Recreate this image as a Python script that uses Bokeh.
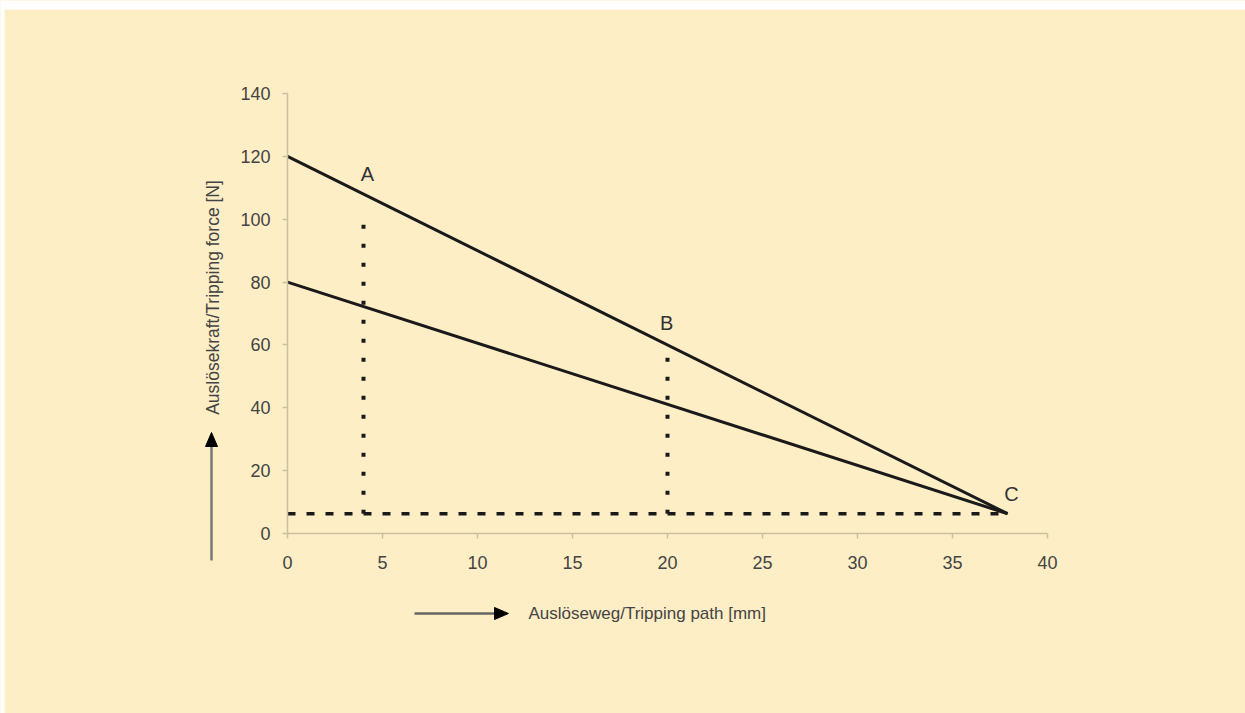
from bokeh.plotting import figure
from bokeh.models import Range1d, FixedTicker, Label, BoxAnnotation
from bokeh.embed import file_html
from bokeh.resources import INLINE

# --- data ---
x_line = [0, 37.9]
force_upper = [120, 6.3]
force_lower = [80, 6.3]
a_x = [4, 4]
a_y = [6.3, 102]
b_x = [20, 20]
b_y = [6.3, 58]
base_x = [0, 37.9]
base_y = [6.3, 6.3]
x_ticks = [0, 5, 10, 15, 20, 25, 30, 35, 40]
y_ticks = [0, 20, 40, 60, 80, 100, 120, 140]
point_labels = ["A", "B", "C"]
point_lx = [4.2, 19.95, 38.1]
point_ly = [114.5, 67.1, 12.7]
x_title = "Auslöseweg/Tripping path [mm]"
y_title = "Auslösekraft/Tripping force [N]"

BG = "#fdeec6"
AX = "#cbbf9f"
TXT = "#444444"
FONT = "Liberation Sans"

W, H = 1245, 713
PX_X = 19.0          # pixels per x unit
PX_Y = 440 / 140.0   # pixels per y unit
X0, Y0 = 287, 533    # pixel position of data origin

p = figure(frame_width=W, frame_height=H, min_border=0,
           x_range=Range1d(-X0 / PX_X, (W - X0) / PX_X),
           y_range=Range1d((Y0 - H) / PX_Y, Y0 / PX_Y),
           output_backend="svg", toolbar_location=None)
p.background_fill_color = BG
p.border_fill_color = BG
p.outline_line_color = None
p.grid.visible = False

# page margin band (white strip above / left of the cream panel)
p.add_layout(BoxAnnotation(bottom=(Y0 - 9) / PX_Y, fill_color="white", fill_alpha=1,
                           line_color=None))
p.add_layout(BoxAnnotation(right=(4 - X0) / PX_X, fill_color="white", fill_alpha=1,
                           line_color=None))

for ax in (p.xaxis[0], p.yaxis[0]):
    ax.fixed_location = 0
    ax.axis_line_color = AX
    ax.axis_line_width = 1.5
    ax.major_tick_line_color = AX
    ax.major_tick_line_width = 1.5
    ax.major_tick_out = 5
    ax.major_tick_in = 0
    ax.minor_tick_line_color = None
    ax.major_label_text_font = FONT
    ax.major_label_text_font_size = "18px"
    ax.major_label_text_color = TXT
p.xaxis[0].ticker = FixedTicker(ticks=x_ticks)
p.yaxis[0].ticker = FixedTicker(ticks=y_ticks)
p.xaxis[0].bounds = (0, 40)
p.yaxis[0].bounds = (0, 140)
p.xaxis[0].major_label_standoff = 17
p.yaxis[0].major_label_standoff = 12

# main lines
p.line(x_line, force_upper, line_color="#1a1a1a", line_width=3)
p.line(x_line, force_lower, line_color="#1a1a1a", line_width=3)

# dotted guides
p.line(a_x, a_y, line_color="#1a1a1a", line_width=4, line_dash="4 15")
p.line(b_x, b_y, line_color="#1a1a1a", line_width=4, line_dash="4 15")
p.line(base_x, base_y, line_color="#1a1a1a", line_width=3.5, line_dash="8 11")

for t, lx, ly in zip(point_labels, point_lx, point_ly):
    p.add_layout(Label(x=lx, y=ly, text=t, text_font=FONT, text_font_size="20px",
                       text_color="#333333", text_align="center", text_baseline="middle"))

# axis titles
p.add_layout(Label(x=(212 - X0) / PX_X, y=(Y0 - 297) / PX_Y, text=y_title, angle=90,
                   angle_units="deg", text_font=FONT, text_font_size="17.5px",
                   text_color=TXT, text_align="center", text_baseline="middle"))
p.add_layout(Label(x=(528 - X0) / PX_X, y=(Y0 - 613) / PX_Y, text=x_title,
                   text_font=FONT, text_font_size="17px",
                   text_color=TXT, text_align="left", text_baseline="middle"))

# arrows next to the axis titles
up_x = (211 - X0) / PX_X
p.line([up_x, up_x], [(Y0 - 560) / PX_Y, (Y0 - 446) / PX_Y], line_color="#777777", line_width=2.5)
p.patch([up_x - 6 / PX_X, up_x, up_x + 6 / PX_X],
        [(Y0 - 446) / PX_Y, (Y0 - 432) / PX_Y, (Y0 - 446) / PX_Y],
        fill_color="black", line_color="black")
rt_y = (Y0 - 613) / PX_Y
p.line([(414 - X0) / PX_X, (495 - X0) / PX_X], [rt_y, rt_y], line_color="#666666", line_width=2.5)
p.patch([(494 - X0) / PX_X, (508 - X0) / PX_X, (494 - X0) / PX_X],
        [rt_y + 6 / PX_Y, rt_y, rt_y - 6 / PX_Y],
        fill_color="black", line_color="black")

open("out.html", "w").write(file_html(p, INLINE))
